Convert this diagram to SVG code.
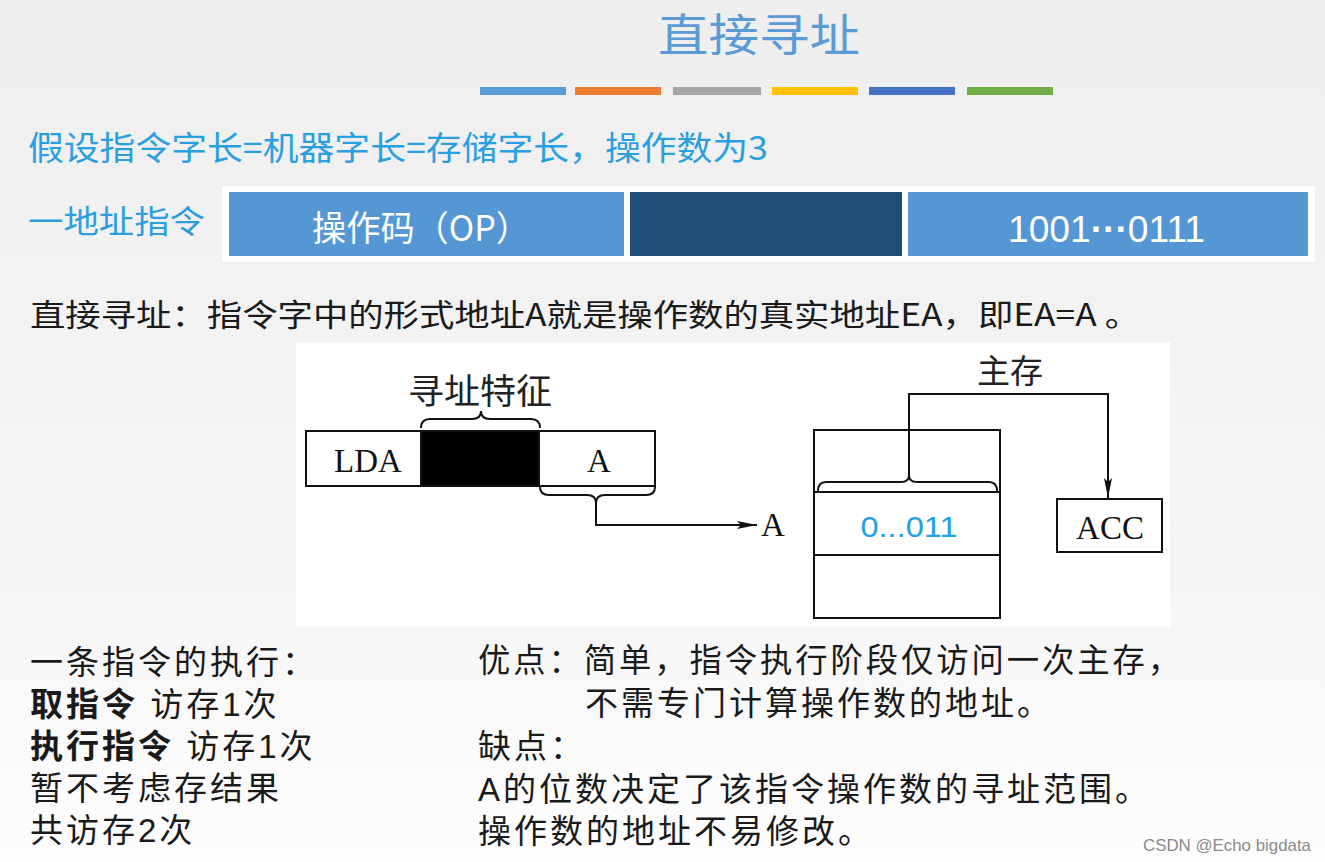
<svg xmlns="http://www.w3.org/2000/svg" width="1325" height="862" viewBox="0 0 1325 862">
<style>
.cjk{font-family:"Noto Sans CJK SC","Noto Sans",sans-serif}
.note{font-family:"Liberation Sans","Noto Sans CJK SC",sans-serif}
.blue{fill:#2a9fe0}
.body{fill:#1a1a1a;font-size:33px;letter-spacing:3px}
.serif{font-family:"Liberation Serif","Noto Sans CJK SC",serif;fill:#111}
.box{fill:#fff;stroke:#111;stroke-width:2}
.line{fill:none;stroke:#111;stroke-width:2}
</style>
<defs>
<linearGradient id="bg" x1="0" y1="0" x2="0" y2="1">
<stop offset="0" stop-color="#eeeeee"/>
<stop offset="0.7" stop-color="#f6f6f6"/>
<stop offset="1" stop-color="#fdfdfd"/>
</linearGradient>
<marker id="arr" viewBox="0 0 20 10" refX="20" refY="5" markerWidth="20" markerHeight="10" markerUnits="userSpaceOnUse" orient="auto">
<path d="M0,1 L20,5 L0,9 L4,5 Z" fill="#111"/>
</marker>
</defs>
<rect width="1325" height="862" fill="url(#bg)"/>

<g id="title">
<text x="759" y="52" text-anchor="middle" class="cjk" font-size="45" fill="#5b9bd5" textLength="202" lengthAdjust="spacingAndGlyphs">直接寻址</text>
<rect x="480" y="87" width="86" height="8" fill="#5b9bd5"/>
<rect x="575" y="87" width="86" height="8" fill="#ed7d31"/>
<rect x="673" y="87" width="88" height="8" fill="#a5a5a5"/>
<rect x="772" y="87" width="86" height="8" fill="#ffc000"/>
<rect x="869" y="87" width="86" height="8" fill="#4472c4"/>
<rect x="967" y="87" width="86" height="8" fill="#70ad47"/>
</g>

<g id="assume">
<text x="28" y="160" class="cjk blue" font-size="33" textLength="740" lengthAdjust="spacingAndGlyphs">假设指令字长=机器字长=存储字长，操作数为3</text>
</g>

<g id="instr-format">
<text x="28" y="233" class="cjk blue" font-size="32" textLength="177" lengthAdjust="spacingAndGlyphs">一地址指令</text>
<rect x="222" y="186" width="1093" height="76" fill="#ffffff"/>
<rect x="229" y="192" width="395" height="64" fill="#5596d5"/>
<rect x="630" y="192" width="272" height="64" fill="#1f4e79"/>
<rect x="908" y="192" width="400" height="64" fill="#5596d5"/>
<text x="421" y="241" text-anchor="middle" class="cjk" font-size="35" fill="#fff" textLength="218" lengthAdjust="spacingAndGlyphs">操作码（OP）</text>
<text x="1008" y="242" font-family="Liberation Sans, sans-serif" font-size="36" fill="#fff" textLength="197" lengthAdjust="spacingAndGlyphs">1001<tspan font-weight="bold">···</tspan>0111</text>
</g>

<g id="definition">
<text x="30" y="326" class="cjk" font-size="31" fill="#1a1a1a" textLength="1110" lengthAdjust="spacingAndGlyphs">直接寻址：指令字中的形式地址A就是操作数的真实地址EA，即EA=A 。</text>
</g>

<rect x="296" y="342" width="874" height="285" fill="#ffffff"/>

<g id="instruction">
<rect x="306" y="431" width="349" height="55" class="box"/>
<rect x="421" y="431" width="118" height="55" fill="#000" stroke="#111" stroke-width="2"/>
<text x="368" y="472" text-anchor="middle" class="serif" font-size="33">LDA</text>
<text x="599" y="472" text-anchor="middle" class="serif" font-size="33">A</text>
<path class="line" d="M421,428 Q421,419 430,419 L472,419 Q481,419 481,411 Q481,419 490,419 L531,419 Q540,419 540,428"/>
<text x="480" y="404" text-anchor="middle" class="cjk" font-size="35" fill="#222" textLength="144" lengthAdjust="spacingAndGlyphs">寻址特征</text>
<path class="line" d="M540,487 Q540,495 549,495 L587,495 Q596,495 596,503 Q596,495 605,495 L646,495 Q655,495 655,487"/>
</g>

<g id="addr-A">
<text x="773" y="536" text-anchor="middle" class="serif" font-size="33">A</text>
</g>

<g id="memory">
<rect x="814" y="430" width="186" height="188" class="box"/>
<line x1="814" y1="492" x2="1000" y2="492" class="line"/>
<line x1="814" y1="555" x2="1000" y2="555" class="line"/>
<path class="line" d="M818,491 Q818,482 826,482 L901,482 Q909,482 909,475 Q909,482 917,482 L989,482 Q997,482 997,491"/>
<text x="909" y="537" text-anchor="middle" font-family="Liberation Sans, sans-serif" font-size="30" fill="#1ea0e4" textLength="97" lengthAdjust="spacingAndGlyphs">0...011</text>
<text x="1010" y="383" text-anchor="middle" class="cjk" font-size="33" fill="#222">主存</text>
</g>

<g id="acc">
<rect x="1057" y="499" width="105" height="53" class="box"/>
<text x="1110" y="539" text-anchor="middle" class="serif" font-size="33">ACC</text>
</g>

<g id="connectors">
<path class="line" d="M596,503 V525 H757" marker-end="url(#arr)"/>
<path class="line" d="M909,475 V394 H1108 V498" marker-end="url(#arr)"/>
</g>

<g id="notes-left" class="note body">
<text x="30" y="674">一条指令的执行：</text>
<text x="30" y="716"><tspan font-weight="bold">取指令</tspan> 访存1次</text>
<text x="30" y="758"><tspan font-weight="bold">执行指令</tspan> 访存1次</text>
<text x="30" y="800">暂不考虑存结果</text>
<text x="30" y="842">共访存2次</text>
</g>

<g id="notes-right" class="note body">
<text x="478" y="672" textLength="705" lengthAdjust="spacingAndGlyphs">优点：简单，指令执行阶段仅访问一次主存，</text>
<text x="585" y="715">不需专门计算操作数的地址。</text>
<text x="478" y="758">缺点：</text>
<text x="478" y="801">A的位数决定了该指令操作数的寻址范围。</text>
<text x="478" y="843">操作数的地址不易修改。</text>
</g>

<text x="1311" y="851" text-anchor="end" font-family="Liberation Sans, sans-serif" font-size="17" fill="#8a8a8a" textLength="168" lengthAdjust="spacingAndGlyphs">CSDN @Echo bigdata</text>
</svg>
